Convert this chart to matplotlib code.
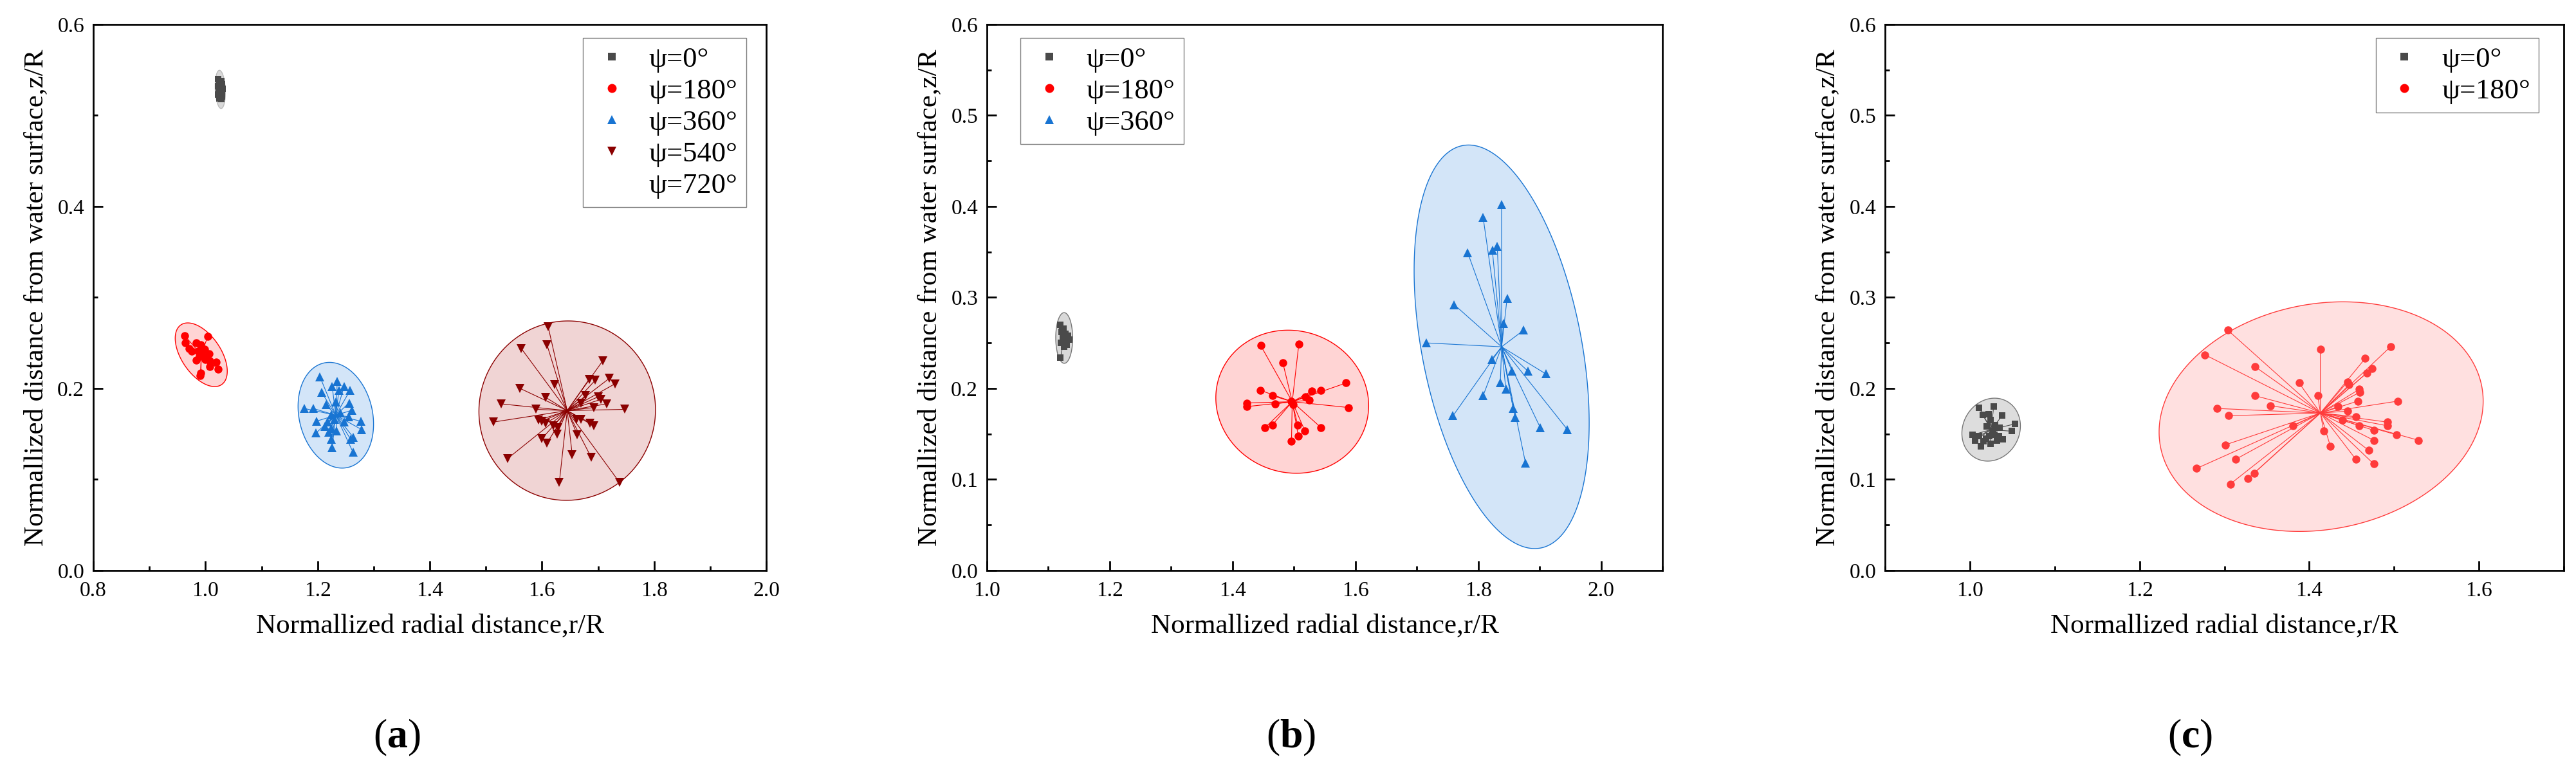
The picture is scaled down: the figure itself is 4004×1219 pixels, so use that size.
import numpy as np
import matplotlib
matplotlib.use("Agg")
import matplotlib.pyplot as plt
from matplotlib.ticker import MultipleLocator
from matplotlib.lines import Line2D

plt.rcParams['font.family'] = ['Liberation Serif', 'DejaVu Serif']
plt.rcParams['mathtext.fontset'] = 'custom'
plt.rcParams['mathtext.rm'] = 'Liberation Serif'
plt.rcParams['mathtext.bf'] = 'Liberation Serif:bold'

# ---- panel (a) ----
a0_x = [1.022, 1.028, 1.025, 1.030, 1.023, 1.027, 1.031, 1.024, 1.029, 1.026, 1.022, 1.030, 1.025, 1.028]
a0_y = [0.540, 0.538, 0.536, 0.534, 0.532, 0.531, 0.529, 0.528, 0.526, 0.525, 0.523, 0.521, 0.519, 0.518]

a180_x = [0.963, 1.004, 0.964, 0.983, 0.971, 0.992, 0.987, 0.998, 0.994, 1.006, 0.983, 1.000, 1.008, 1.019,
          1.008, 1.023, 0.992, 0.991, 0.975, 0.989]
a180_y = [0.258, 0.257, 0.250, 0.250, 0.244, 0.248, 0.241, 0.243, 0.237, 0.238, 0.231, 0.232, 0.230, 0.229,
          0.224, 0.221, 0.217, 0.214, 0.241, 0.235]

a360_x = [1.204, 1.235, 1.226, 1.247, 1.258, 1.207, 1.238, 1.232, 1.256, 1.215, 1.176, 1.192, 1.261, 1.241,
          1.224, 1.255, 1.198, 1.230, 1.277, 1.213, 1.224, 1.278, 1.197, 1.234, 1.220, 1.264, 1.259, 1.224,
          1.226, 1.263, 1.247, 1.217]
a360_y = [0.213, 0.208, 0.202, 0.202, 0.198, 0.196, 0.198, 0.185, 0.184, 0.182, 0.178, 0.178, 0.176, 0.173,
          0.171, 0.169, 0.164, 0.166, 0.164, 0.158, 0.156, 0.155, 0.151, 0.153, 0.152, 0.146, 0.144, 0.144,
          0.135, 0.130, 0.163, 0.163]

a540_x = [1.611, 1.609, 1.563, 1.708, 1.684, 1.695, 1.720, 1.730, 1.623, 1.561, 1.607, 1.678, 1.701, 1.705,
          1.715, 1.669, 1.527, 1.589, 1.693, 1.748, 1.513, 1.594, 1.600, 1.607, 1.670, 1.661, 1.686, 1.692,
          1.620, 1.628, 1.627, 1.663, 1.600, 1.609, 1.654, 1.688, 1.539, 1.631, 1.738]
a540_y = [0.268, 0.248, 0.244, 0.230, 0.210, 0.209, 0.211, 0.205, 0.204, 0.200, 0.190, 0.192, 0.191, 0.188,
          0.183, 0.184, 0.183, 0.177, 0.179, 0.177, 0.163, 0.165, 0.164, 0.162, 0.166, 0.166, 0.162, 0.159,
          0.159, 0.157, 0.150, 0.149, 0.145, 0.140, 0.127, 0.124, 0.123, 0.097, 0.097]

# ---- panel (b) ----
b0_x = [1.120, 1.125, 1.122, 1.128, 1.131, 1.124, 1.134, 1.127, 1.121, 1.130, 1.126, 1.132, 1.123, 1.120]
b0_y = [0.270, 0.266, 0.262, 0.260, 0.257, 0.255, 0.254, 0.252, 0.250, 0.248, 0.246, 0.258, 0.264, 0.234]

b180_x = [1.446, 1.508, 1.482, 1.585, 1.445, 1.465, 1.544, 1.529, 1.519, 1.525, 1.423, 1.423, 1.469, 1.589,
          1.499, 1.496, 1.465, 1.453, 1.506, 1.544, 1.518, 1.507, 1.496]
b180_y = [0.247, 0.249, 0.228, 0.206, 0.198, 0.192, 0.198, 0.197, 0.191, 0.187, 0.184, 0.180, 0.183, 0.179,
          0.182, 0.186, 0.160, 0.157, 0.160, 0.157, 0.153, 0.148, 0.142]

b360_x = [1.838, 1.808, 1.831, 1.823, 1.783, 1.847, 1.761, 1.841, 1.874, 1.716, 1.822, 1.881, 1.910, 1.855,
          1.836, 1.845, 1.808, 1.857, 1.759, 1.860, 1.901, 1.945, 1.877]
b360_y = [0.402, 0.388, 0.356, 0.352, 0.349, 0.299, 0.292, 0.271, 0.264, 0.250, 0.232, 0.219, 0.216, 0.219,
          0.206, 0.199, 0.192, 0.178, 0.170, 0.168, 0.157, 0.155, 0.118]

# ---- panel (c) ----
c0_x = [1.011, 1.028, 1.022, 1.038, 1.015, 1.024, 1.020, 1.030, 1.035, 1.027, 1.029, 1.034, 1.053, 1.049,
        1.003, 1.011, 1.019, 1.024, 1.013, 1.032, 1.039, 1.023, 1.016, 1.006]
c0_y = [0.179, 0.180, 0.172, 0.170, 0.171, 0.165, 0.158, 0.160, 0.157, 0.153, 0.149, 0.148, 0.161, 0.153,
        0.149, 0.148, 0.145, 0.139, 0.136, 0.143, 0.144, 0.148, 0.142, 0.143]

c180_x = [1.304, 1.277, 1.496, 1.413, 1.336, 1.466, 1.474, 1.468, 1.388, 1.445, 1.447, 1.459, 1.460, 1.336,
          1.410, 1.504, 1.457, 1.354, 1.291, 1.434, 1.445, 1.305, 1.455, 1.439, 1.492, 1.459, 1.492, 1.381,
          1.476, 1.417, 1.503, 1.529, 1.476, 1.301, 1.425, 1.470, 1.313, 1.455, 1.476, 1.267, 1.335, 1.328, 1.307]
c180_y = [0.264, 0.237, 0.246, 0.243, 0.224, 0.233, 0.222, 0.217, 0.206, 0.207, 0.204, 0.199, 0.196, 0.192,
          0.192, 0.186, 0.186, 0.181, 0.178, 0.180, 0.175, 0.170, 0.169, 0.165, 0.163, 0.159, 0.159, 0.159,
          0.154, 0.153, 0.149, 0.143, 0.143, 0.138, 0.136, 0.132, 0.122, 0.122, 0.117, 0.112, 0.107, 0.101, 0.095]
# ellipse of (c) psi=180: centre and two conjugate semi-diameters
c180_ell_center = [1.414, 0.169]
c180_ell_u = [0.191, 0.017]
c180_ell_v = [0.0, 0.125]

labels = ["ψ=0°", "ψ=180°", "ψ=360°", "ψ=540°", "ψ=720°"]

GRAY, RED, BLUE, MAROON = "#4a4a4a", "#ff0000", "#1874d2", "#8b0000"


def cluster(ax, x, y, color, fill, marker, ms, edge=None, level=0.95, ell=None):
    x = np.asarray(x)
    y = np.asarray(y)
    n = len(x)
    cx, cy = x.mean(), y.mean()
    t = np.linspace(0, 2 * np.pi, 300)
    if ell is None:
        # prediction ellipse (F distribution with 2 and n-2 dof has closed form)
        m = n - 2
        f = m / 2.0 * ((1 - level) ** (-2.0 / m) - 1)
        k = np.sqrt(2.0 * (n - 1) * (n + 1) / (n * m) * f)
        vals, vecs = np.linalg.eigh(np.cov(x, y))
        pts = vecs @ (k * np.sqrt(vals)[:, None] * np.vstack([np.cos(t), np.sin(t)]))
        ex, ey = cx + pts[0], cy + pts[1]
    else:
        c, u, v = ell
        ex = c[0] + u[0] * np.cos(t) + v[0] * np.sin(t)
        ey = c[1] + u[1] * np.cos(t) + v[1] * np.sin(t)
    ax.fill(ex, ey, facecolor=fill, edgecolor=edge or color, lw=1.0, zorder=1)
    for xi, yi in zip(x, y):
        ax.plot([cx, xi], [cy, yi], color=color, lw=0.8, zorder=2)
    ax.plot(x, y, ls="none", marker=marker, color=color, ms=ms, mew=0, zorder=3)


def style(ax, xlim, xmaj, ymaj, ymin):
    ax.set_xlim(*xlim)
    ax.set_ylim(0, 0.6)
    ax.xaxis.set_major_locator(MultipleLocator(xmaj))
    ax.xaxis.set_minor_locator(MultipleLocator(xmaj / 2))
    ax.yaxis.set_major_locator(MultipleLocator(ymaj))
    ax.yaxis.set_minor_locator(MultipleLocator(ymin))
    ax.tick_params(which="both", direction="in", width=2, labelsize=24, top=False, right=False)
    ax.tick_params(which="major", length=11)
    ax.tick_params(which="minor", length=5)
    ax.tick_params(axis="x", pad=12)
    ax.tick_params(axis="y", pad=10)
    for s in ax.spines.values():
        s.set_linewidth(2)
    ax.set_xlabel("Normallized radial distance,r/R", fontsize=31, labelpad=14)
    ax.set_ylabel("Normallized distance from water surface,z/R", fontsize=31, labelpad=10)


def legend(ax, n, loc, anchor):
    specs = [("s", GRAY, 9), ("o", RED, 10), ("^", BLUE, 10), ("v", MAROON, 10), ("", "none", 1)]
    hs = [Line2D([], [], ls="none", marker=mk, color=c, ms=ms, mew=0) for mk, c, ms in specs[:n]]
    ax.legend(hs, labels[:n], loc=loc, bbox_to_anchor=anchor, fontsize=32, frameon=True,
              fancybox=False, edgecolor="#808080", framealpha=1, handlelength=1.4,
              handletextpad=0.6, labelspacing=0.2, borderpad=0.3, borderaxespad=0)


fig = plt.figure(figsize=(40.05, 12.19), dpi=100)
bot, hgt = 0.2724, 0.6965
ax_a = fig.add_axes([0.0362, bot, 0.2612, hgt])
ax_b = fig.add_axes([0.3830, bot, 0.2622, hgt])
ax_c = fig.add_axes([0.7316, bot, 0.2634, hgt])

# (a)
cluster(ax_a, a0_x, a0_y, GRAY, "#d9d9d9", "s", 7.5, edge="#bbbbbb")
cluster(ax_a, a180_x, a180_y, RED, "#ffd4d4", "o", 9)
cluster(ax_a, a360_x, a360_y, BLUE, "#d3e5f8", "^", 10)
cluster(ax_a, a540_x, a540_y, MAROON, "#f0d4d4", "v", 10)
style(ax_a, (0.8, 2.0), 0.2, 0.2, 0.1)
legend(ax_a, 5, "upper right", (0.970, 0.975))

# (b)
cluster(ax_b, b0_x, b0_y, GRAY, "#d9d9d9", "s", 7.5, edge="#777777")
cluster(ax_b, b180_x, b180_y, RED, "#ffd4d4", "o", 9)
cluster(ax_b, b360_x, b360_y, BLUE, "#d3e5f8", "^", 10)
style(ax_b, (1.0, 2.1), 0.2, 0.1, 0.05)
legend(ax_b, 3, "upper left", (0.050, 0.975))

# (c)
cluster(ax_c, c0_x, c0_y, GRAY, "#dddddd", "s", 7.5, edge="#777777")
cluster(ax_c, c180_x, c180_y, "#ff3b3b", "#ffe0e0", "o", 9,
        ell=(c180_ell_center, c180_ell_u, c180_ell_v))
style(ax_c, (0.9, 1.7), 0.2, 0.1, 0.05)
legend(ax_c, 2, "upper right", (0.963, 0.975))

for lbl, xc in zip(["a", "b", "c"], [0.154, 0.501, 0.850]):
    fig.text(xc, 0.059, r"($\mathbf{%s}$)" % lbl, fontsize=46, ha="center", va="center")

fig.savefig("out.png", dpi=100)
